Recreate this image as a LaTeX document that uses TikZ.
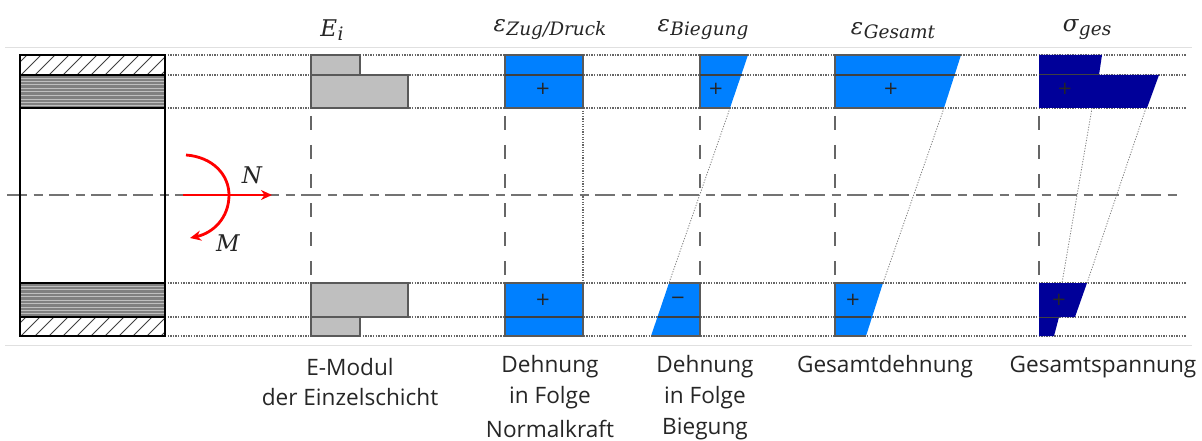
\documentclass[tikz,border=0pt]{standalone}
\usepackage{fontspec}
\usetikzlibrary{arrows.meta}
\setmainfont{Open Sans}
\newfontfamily\mathf{DejaVu Serif}
\newfontfamily\signf{DejaVu Sans}
\definecolor{blue1}{RGB}{0,128,255}
\definecolor{blue2}{RGB}{0,0,153}
\newcommand{\subtxt}[1]{\kern0.5pt\raisebox{-4pt}{\fontsize{18.5}{20}\selectfont #1}}
\begin{document}
\begin{tikzpicture}[x=1pt,y=-1pt,
  guide/.style={black!60,line width=1.1pt,dash pattern=on 1.3pt off 1.3pt},
  frameline/.style={black!12,line width=0.8pt},
  axisdash/.style={black!60,line width=1.7pt,dash pattern=on 14pt off 15pt,dash phase=21pt},
  centerline/.style={black!55,line width=1.8pt,dash pattern=on 20pt off 6.5pt on 9pt off 6.5pt},
  helper/.style={black!50,line width=0.8pt,dash pattern=on 1.2pt off 1.5pt},
  gray block/.style={fill=black!25,draw=black!65,line width=1.3pt},
  edge/.style={black!65,line width=1.2pt},
  band/.style={black!75,line width=1.4pt},
  section/.style={black,line width=2.6pt},
  force/.style={red,line width=2.8pt,-{Stealth[length=11pt,width=10pt]}},
  cap text/.style={font=\fontsize{22.6}{26}\selectfont,text=black!85,inner sep=0pt},
  sym/.style={font=\fontsize{23}{26}\selectfont\mathf\itshape,inner sep=0pt,text=black!85},
  sign/.style={font=\fontsize{18}{20}\selectfont\signf,inner sep=0pt,text=black!85}]
\useasboundingbox (0,0) rectangle (1202,441);
\fill[white] (0,0) rectangle (1202,441);
% frame lines
\draw[frameline] (5,47) -- (1192,47);
\draw[frameline] (5,345) -- (1192,345);
% dotted guides
\foreach \yy in {55,75,108,283,317,336}
  \draw[guide] (165,\yy) -- (1186,\yy);
% vertical dashed axes
\foreach \xx in {311,505,700,835,1039}
  \draw[axisdash] (\xx,108) -- (\xx,283);
\draw[guide] (583,108) -- (583,283);
% helper lines
\draw[helper] (730,108) -- (669,283);
\draw[helper] (944,108) -- (883,283);
\draw[helper] (1092,108) -- (1062,283);
\draw[helper] (1146,108) -- (1087,283);
% centre line
\draw[centerline] (7,195) -- (1182,195);
% section
\fill[black!50] (20,75) rectangle (165,108);
\fill[black!50] (20,283) rectangle (165,317);
\foreach \yy in {78,81.5,84,88,91,95,99,102,105}
  \draw[black!25,line width=0.8pt] (20,\yy) -- (165,\yy);
\foreach \yy in {286,289,293,296,300,303,307,310,313}
  \draw[black!25,line width=0.8pt] (20,\yy) -- (165,\yy);
\begin{scope}
  \clip (20,55) rectangle (165,75);
  \foreach \xx in {6,20,...,180}
    \draw[black!75,line width=0.9pt] (\xx,76) -- (\xx+22,54);
\end{scope}
\begin{scope}
  \clip (20,317) rectangle (165,336);
  \foreach \xx in {6,20,...,180}
    \draw[black!75,line width=0.9pt] (\xx,337) -- (\xx+22,315);
\end{scope}
\draw[section] (20,55) rectangle (165,336);
\draw[section] (20,75) -- (165,75);
\draw[section] (20,108) -- (165,108);
\draw[section] (20,283) -- (165,283);
\draw[section] (20,317) -- (165,317);
% loads
\draw[force] (186,155) .. controls (213,157) and (229,175) .. (229,195) .. controls (229,218) and (213,233) .. (190,238);
\draw[force] (183,195) -- (272,195);
\node[sym] (nlabel) at (252,175) {N};
\node[sym] (mlabel) at (228,243) {M};
% E-modulus
\draw[gray block] (311,55) rectangle (360,75);
\draw[gray block] (311,75) rectangle (408,108);
\draw[gray block] (311,283) rectangle (408,317);
\draw[gray block] (311,317) rectangle (360,336);
% Zug/Druck
\fill[blue1] (505,55) rectangle (583,108);
\fill[blue1] (505,283) rectangle (583,336);
\draw[edge] (505,55) rectangle (583,108);
\draw[edge] (505,283) rectangle (583,336);
\draw[band] (505,75) -- (583,75);
\draw[band] (505,317) -- (583,317);
% Biegung
\fill[blue1] (700,55) -- (748,55) -- (730,108) -- (700,108) -- cycle;
\fill[blue1] (669,283) -- (700,283) -- (700,336) -- (651,336) -- cycle;
\draw[edge] (730,108) -- (700,108) -- (700,55) -- (748,55);
\draw[edge] (669,283) -- (700,283) -- (700,336) -- (651,336);
\draw[band] (700,75) -- (742,75);
\draw[band] (658,317) -- (700,317);
% Gesamt
\fill[blue1] (835,55) -- (961,55) -- (944,108) -- (835,108) -- cycle;
\fill[blue1] (835,283) -- (883,283) -- (866,336) -- (835,336) -- cycle;
\draw[edge] (944,108) -- (835,108) -- (835,55) -- (961,55);
\draw[edge] (883,283) -- (835,283) -- (835,336) -- (866,336);
\draw[band] (835,75) -- (955,75);
\draw[band] (835,317) -- (871,317);
% sigma
\fill[blue2] (1039,55) -- (1102,55) -- (1099,75) -- (1159,75) -- (1147,108) -- (1039,108) -- cycle;
\fill[blue2] (1039,283) -- (1087,283) -- (1075,317) -- (1059,317) -- (1054,336) -- (1039,336) -- cycle;
\draw[band,line width=1pt] (1039,75) -- (1099,75);
\draw[band,line width=1pt] (1039,317) -- (1059,317);
% signs
\node[sign] (p1) at (543,89) {+};
\node[sign] (p2) at (716,89) {+};
\node[sign] (p3) at (891,89) {+};
\node[sign] (p4) at (1065,89) {+};
\node[sign] (p5) at (543,300) {+};
\node[sign] (m1) at (678,300) {−};
\node[sign] (p6) at (853,300) {+};
\node[sign] (p7) at (1059,300) {+};
% headings
\node[sym] (h1) at (332,30) {E\subtxt{i}};
\node[sym] (h2) at (550,30) {ε\subtxt{Zug/Druck}};
\node[sym] (h3) at (703,30) {ε\subtxt{Biegung}};
\node[sym] (h4) at (893,31) {ε\subtxt{Gesamt}};
\node[sym] (h5) at (1087,30) {σ\subtxt{ges}};
% captions
\node[cap text] (c1a) at (350,367) {E-Modul};
\node[cap text] (c1b) at (350,397) {der Einzelschicht};
\node[cap text] (c2a) at (550,367) {Dehnung};
\node[cap text] (c2b) at (550,398) {in Folge};
\node[cap text] (c2c) at (550,429) {Normalkraft};
\node[cap text] (c3a) at (705,367) {Dehnung};
\node[cap text] (c3b) at (705,398) {in Folge};
\node[cap text] (c3c) at (705,429) {Biegung};
\node[cap text] (c4) at (885,367) {Gesamtdehnung};
\node[cap text] (c5) at (1103,367) {Gesamtspannung};
\end{tikzpicture}
\end{document}
